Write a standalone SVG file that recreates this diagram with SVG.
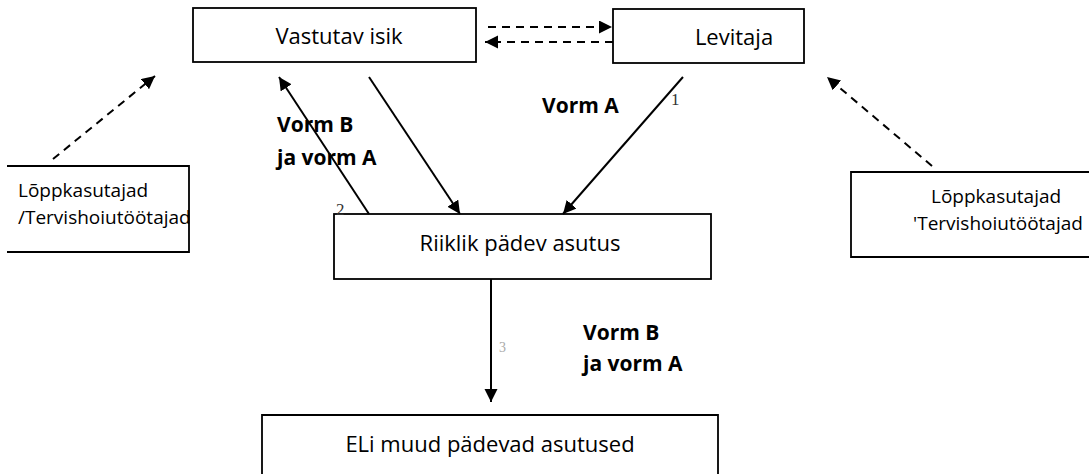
<svg xmlns="http://www.w3.org/2000/svg" width="1089" height="474" viewBox="0 0 1089 474">
<defs>
<marker id="ah" markerUnits="userSpaceOnUse" markerWidth="14" markerHeight="14" refX="13" refY="6.5" orient="auto">
<path d="M0,0 L13,6.5 L0,13 z" fill="#000"/>
</marker>
</defs>
<style>
.box{fill:#fff;stroke:#000;stroke-width:1.8}
.edge{fill:none;stroke:#000;stroke-width:1.8}
.t{font-family:"Open Sans","Liberation Sans",sans-serif;font-size:22px;fill:#000}
.s{font-family:"Open Sans","Liberation Sans",sans-serif;font-size:19px;fill:#000}
.b{font-family:"Open Sans","Liberation Sans",sans-serif;font-size:21px;font-weight:bold;fill:#000}
.n{font-family:"Liberation Serif",serif;font-size:17px;fill:#333}
.line{fill:none;stroke:#000;stroke-width:2;marker-end:url(#ah)}
.dash{fill:none;stroke:#000;stroke-width:2;stroke-dasharray:8,6;marker-end:url(#ah)}
</style>
<g id="vastutav">
<rect class="box" x="193" y="8" width="283" height="54"/>
<text class="t" x="339" y="44" text-anchor="middle">Vastutav isik</text>
</g>
<g id="levitaja">
<rect class="box" x="613" y="9" width="191" height="54"/>
<text class="t" x="734" y="45" text-anchor="middle">Levitaja</text>
</g>
<g id="lopp-left">
<path class="edge" d="M7,166 H189 V252 H7"/>
<text class="s" x="18" y="197">Lõppkasutajad</text>
<text class="s" x="18" y="224">/Tervishoiutöötajad</text>
</g>
<g id="lopp-right">
<path class="edge" d="M1090,172 H851 V257 H1090"/>
<text class="s" x="931" y="203">Lõppkasutajad</text>
<text class="s" x="913" y="230">'Tervishoiutöötajad</text>
</g>
<g id="riiklik">
<rect class="box" x="334" y="214" width="377" height="65"/>
<text class="t" x="520" y="251" text-anchor="middle">Riiklik pädev asutus</text>
</g>
<g id="eli">
<path class="edge" d="M262,475 V415 H718 V475"/>
<text class="t" x="490" y="452" text-anchor="middle">ELi muud pädevad asutused</text>
</g>
<g id="connectors">
<line class="dash" x1="488" y1="27" x2="612" y2="27"/>
<line class="dash" x1="613" y1="42" x2="485" y2="42"/>
<line class="dash" x1="53" y1="159" x2="155" y2="76"/>
<line class="dash" x1="932" y1="166" x2="827" y2="77"/>
<line class="line" x1="369" y1="77" x2="460" y2="214"/>
<line class="line" x1="369" y1="214" x2="279" y2="77"/>
<line class="line" x1="683" y1="77" x2="563" y2="214"/>
<line class="line" x1="491" y1="279" x2="491" y2="402"/>
<text class="n" x="671" y="105">1</text>
<text class="n" x="336" y="215">2</text>
<text class="n" x="499" y="352" style="fill:#aaa;font-size:14px">3</text>
<text class="b" x="542" y="113">Vorm A</text>
<text class="b" x="277" y="132">Vorm B</text>
<text class="b" x="277" y="165">ja vorm A</text>
<text class="b" x="583" y="340">Vorm B</text>
<text class="b" x="583" y="371">ja vorm A</text>
</g>
</svg>
